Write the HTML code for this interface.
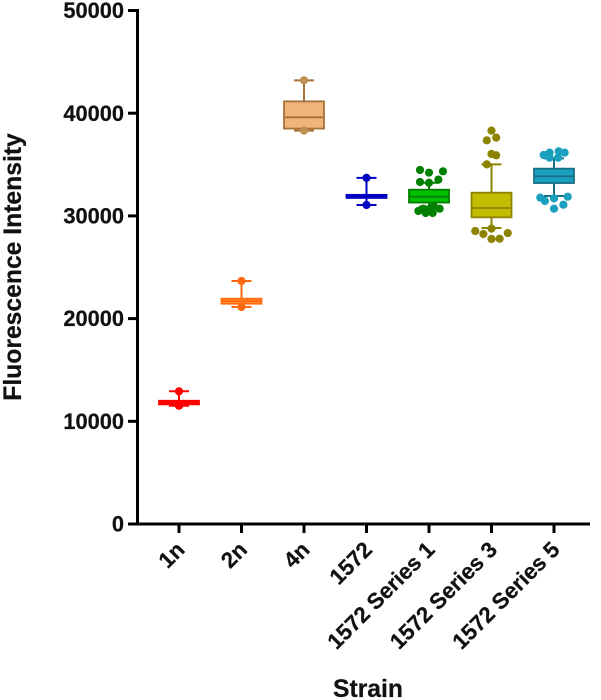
<!DOCTYPE html>
<html>
<head>
<meta charset="utf-8">
<title>Fluorescence Intensity by Strain</title>
<style>
html,body{margin:0;padding:0;background:#fff;}
svg{display:block;}
text{font-family:"Liberation Sans",Arial,sans-serif;font-weight:bold;fill:#111;stroke:#111;stroke-width:0.25;}
</style>
</head>
<body>
<svg id="chart" xmlns="http://www.w3.org/2000/svg" width="601" height="700" viewBox="0 0 601 700">
<text transform="translate(21,267) rotate(-90)" text-anchor="middle" font-size="24.7">Fluorescence Intensity</text>
<text x="368" y="697" text-anchor="middle" font-size="24.7">Strain</text>
</svg>
<script>
const categories = ["1n","2n","4n","1572","1572 Series 1","1572 Series 3","1572 Series 5"];
const yTicks = [0,10000,20000,30000,40000,50000];
const whiskerHigh = [12920,23660,43200,33700,33230,35020,35600];
const boxHigh = [12000,21940,41150,32050,32550,32260,34600];
const medians = [11830,21700,39600,31900,31870,30770,33860];
const boxLow = [11650,21450,38500,31750,31300,29860,33200];
const whiskerLow = [11520,21130,38300,31060,30900,28820,31940];
const fills = ["#ff1010","#ff9030","#f0b478","#1010e0","#00c000","#c4bc00","#1a9fbf"];
const strokes = ["#ff0000","#ff6a10","#a8713a","#0000c0","#007f00","#8c8400","#1a6f88"];
const dotColors = ["#ff0000","#ff6a10","#c09050","#0000c0","#008000","#8c8400","#1aa0bc"];
const outlierValues = [
  [12920,11520],
  [23660,21130],
  [43200,38300],
  [33700,31060],
  [34470,34210,34340,33300,33230,33530,30480,30700,30280,30280,30960,30700,30500],
  [38300,37620,37360,36030,35900,35020,28760,28530,28330,28240,27750,27780],
  [36160,36290,36160,35930,35670,35670,31780,31710,31870,31450,31090,30700]
];
const outlierJitter = [
  [0,0],
  [0,0],
  [0,0],
  [0,0],
  [-0.144,0,0.224,-0.144,0,0.15,-0.17,-0.09,-0.053,0.059,0.075,0.17,0],
  [0,0.075,-0.075,0,0.075,-0.075,0,-0.26,0.26,-0.13,0,0.13],
  [-0.07,0.075,0.17,-0.165,-0.07,0.065,-0.22,0,0.22,-0.145,0.15,0]
];

const NS = "http://www.w3.org/2000/svg";
const svg = document.getElementById("chart");
function xScale(i){ return 179 + 62.5*i; }
function yScale(v){ return 524 - (v/50000)*513.5; }
function make(tag, attrs, parent){
  const el = document.createElementNS(NS, tag);
  for(const k in attrs){ el.setAttribute(k, attrs[k]); }
  (parent||svg).appendChild(el);
  return el;
}
function hline(x1,x2,y,color,w,parent){ return make("line",{x1:x1,x2:x2,y1:y,y2:y,stroke:color,"stroke-width":w},parent); }
function vline(x,y1,y2,color,w,parent){ return make("line",{x1:x,x2:x,y1:y1,y2:y2,stroke:color,"stroke-width":w},parent); }

const BOX_HALF = 20, CAP_HALF = 10, DOT_R = 4.1;

categories.forEach(function(name,i){
  const g = make("g",{});
  
  
  const cx = xScale(i);
  const wh = vline(cx,yScale(whiskerHigh[i]),yScale(boxHigh[i]),strokes[i],2,g);
  
  
  const wl = vline(cx,yScale(boxLow[i]),yScale(whiskerLow[i]),strokes[i],2,g);
  
  
  const ch = hline(cx-CAP_HALF,cx+CAP_HALF,yScale(whiskerHigh[i]),strokes[i],2,g);
  
  
  const cl = hline(cx-CAP_HALF,cx+CAP_HALF,yScale(whiskerLow[i]),strokes[i],2,g);
  
  
  const box = make("rect",{x:cx-BOX_HALF,y:yScale(boxHigh[i]),width:BOX_HALF*2,height:yScale(boxLow[i])-yScale(boxHigh[i]),fill:fills[i],stroke:strokes[i],"stroke-width":1.8},g);
  
  
  const med = hline(cx-BOX_HALF,cx+BOX_HALF,yScale(medians[i]),strokes[i],1.8,g);
  
  
  outlierValues[i].forEach(function(v,j){
    const c = make("circle",{cx:cx+outlierJitter[i][j]*62.5,cy:yScale(v),r:DOT_R,fill:dotColors[i]},g);
    
    
  });
});

const yAxis = vline(137.5,9,525.5,"#000",3);


const xAxis = hline(137.5,590,524,"#000",3);



yTicks.forEach(function(v){
  const y = yScale(v);
  const t = hline(128,137.5,y,"#000",3);
  
  
  const l = make("text",{x:124,y:y+7.6,"text-anchor":"end","font-size":21.8});
  
  
  l.textContent = v;
});

categories.forEach(function(name,i){
  const x = xScale(i);
  const t = vline(x,524,533,"#000",3);
  
  
  const l = make("text",{"text-anchor":"end","font-size":22.2,transform:"translate("+(x+7)+",551) rotate(-45)"});
  
  
  l.textContent = name;
});
</script>
</body>
</html>
